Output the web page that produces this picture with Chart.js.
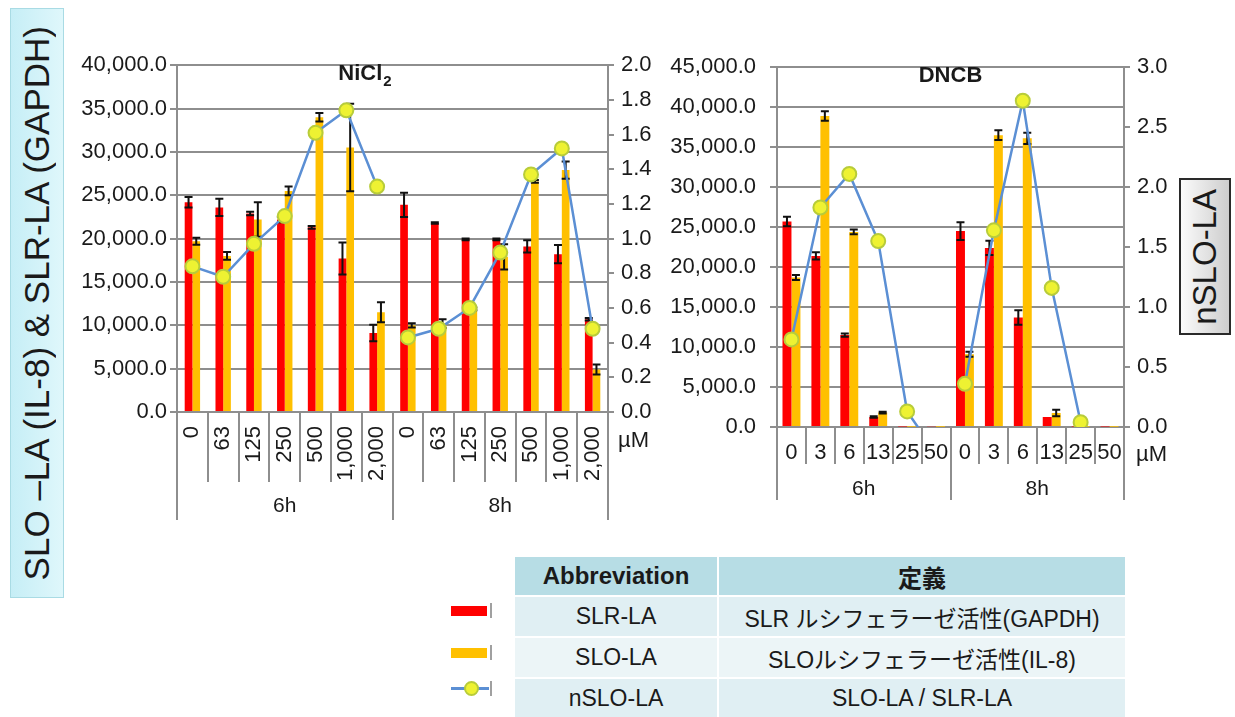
<!DOCTYPE html>
<html lang="ja">
<head>
<meta charset="utf-8">
<title>SLO-LA / SLR-LA</title>
<script src="https://cdn.jsdelivr.net/npm/chart.js@4.4.1/dist/chart.umd.min.js"></script>
<style>
  html, body { margin: 0; padding: 0; background: #fff; }
  body {
    position: relative; width: 1235px; height: 717px; overflow: hidden;
    font-family: "Liberation Sans", Arial, "Noto Sans CJK JP", sans-serif; color: #1a1a1a;
  }
  .box { position: absolute; box-sizing: border-box; display: flex; align-items: center; justify-content: center; }
  .box span { writing-mode: vertical-rl; transform: rotate(180deg); white-space: nowrap; }
  #leftTitle {
    left: 10px; top: 8px; width: 54px; height: 590px;
    background: linear-gradient(to right, #c6eef6, #dff7fb);
    border: 1px solid #a9dbe4; font-size: 35px;
  }
  #rightTitle {
    left: 1179px; top: 178px; width: 52px; height: 157px;
    background: linear-gradient(to right, #fbfbfb, #cdcdcd);
    border: 2px solid #2a2a2a; font-size: 33px;
  }
  .chartWrap { position: absolute; }
  #nicl2Wrap { left: 60px; top: 45px; width: 620px; height: 490px; }
  #dncbWrap { left: 670px; top: 40px; width: 510px; height: 475px; }
  #abbr { position: absolute; left: 515px; top: 557px; border-collapse: separate; border-spacing: 0; }
  #abbr td { text-align: center; padding: 0; }
  #abbr th { text-align: center; padding: 0; font-size: 24px; background: #b7dde5; height: 38px; }
  #abbr td { font-size: 23px; height: 39px; }
  #abbr tr.odd td { background: #e0eff3; }
  #abbr tr.even td { background: #ecf5f7; }
  #abbr .c1 { width: 202px; border-right: 2px solid #fff; }
  #abbr .c2 { width: 406px; }
  #abbr tr + tr th, #abbr tr + tr td { border-top: 2px solid #fff; }
  .key { position: absolute; }
  .key .swatch { position: absolute; left: 0; top: 3px; width: 36px; height: 10px; }
  .key .tick { position: absolute; left: 39px; top: 0; width: 2px; height: 15px; background: #a0a0a0; }
  .key .lineMark { position: absolute; left: 0; top: 6px; width: 38px; height: 3px; background: #5b8fd4; }
  .key .dot {
    position: absolute; left: 13px; top: 0; width: 11px; height: 11px; border-radius: 50%;
    background: #eef232; border: 2px solid #b8cc3a;
  }
</style>
</head>
<body>

<div id="leftTitle" class="box"><span>SLO –LA (IL-8) &amp; SLR-LA (GAPDH)</span></div>
<div id="rightTitle" class="box"><span>nSLO-LA</span></div>

<div id="nicl2Wrap" class="chartWrap"><canvas id="nicl2Chart"></canvas></div>
<div id="dncbWrap" class="chartWrap"><canvas id="dncbChart"></canvas></div>

<div class="key" style="left:451px; top:603px;"><div class="swatch" style="background:#ff0000"></div><div class="tick"></div></div>
<div class="key" style="left:451px; top:645px;"><div class="swatch" style="background:#ffc000"></div><div class="tick"></div></div>
<div class="key" style="left:451px; top:681px;"><div class="lineMark"></div><div class="dot"></div><div class="tick"></div></div>

<table id="abbr">
  <tr><th class="c1">Abbreviation</th><th class="c2">定義</th></tr>
  <tr class="odd"><td class="c1">SLR-LA</td><td class="c2">SLR ルシフェラーゼ活性(GAPDH)</td></tr>
  <tr class="even"><td class="c1">SLO-LA</td><td class="c2">SLOルシフェラーゼ活性(IL-8)</td></tr>
  <tr class="odd"><td class="c1">nSLO-LA</td><td class="c2">SLO-LA / SLR-LA</td></tr>
</table>

<script>
// exposure times shared by both panels
const groups = ['6h', '8h'];

// NiCl2 panel (µM)
const nicl2Doses = ['0', '63', '125', '250', '500', '1,000', '2,000', '0', '63', '125', '250', '500', '1,000', '2,000'];
const nicl2SLR = [24200, 23600, 22900, 22200, 21300, 17700, 9100, 23900, 21800, 19900, 19900, 19100, 18200, 10700];
const nicl2SLRErr = [600, 1000, 200, 300, 150, 1850, 950, 1400, 100, 100, 100, 700, 1050, 150];
const nicl2SLO = [19700, 18000, 22200, 25500, 34000, 30500, 11500, 10000, 10200, 11900, 17900, 26600, 27900, 4900];
const nicl2SLOErr = [400, 450, 2000, 500, 500, 5050, 1150, 250, 500, 150, 1450, 150, 1000, 580];
const nicl2NSLO = [0.84, 0.78, 0.97, 1.13, 1.61, 1.74, 1.30, 0.43, 0.48, 0.60, 0.92, 1.37, 1.52, 0.48];

// DNCB panel (µM)
const dncbDoses = ['0', '3', '6', '13', '25', '50', '0', '3', '6', '13', '25', '50'];
const dncbSLR = [25700, 21400, 11500, 1250, 60, 80, 24500, 22400, 13700, 1250, 60, 60];
const dncbSLRErr = [600, 450, 200, 100, 0, 0, 1100, 900, 900, 0, 0, 0];
const dncbSLO = [18700, 38900, 24400, 1800, 40, 40, 9100, 36500, 36100, 1750, 40, 40];
const dncbSLOErr = [300, 600, 300, 100, 0, 0, 300, 600, 700, 400, 0, 0];
const dncbNSLO = [0.73, 1.83, 2.11, 1.55, 0.13, -0.22, 0.36, 1.64, 2.72, 1.16, 0.04, null];

const RED = '#ff0000';
const ORANGE = '#ffc000';
const LINE_BLUE = '#5b8fd4';
const GRID = '#8e8e8e';
const FONT = '"Liberation Sans", Arial, sans-serif';

Chart.defaults.font.family = FONT;
Chart.defaults.font.size = 22;
Chart.defaults.color = '#1a1a1a';

const thousands = v => v.toLocaleString('en-US', { minimumFractionDigits: 1, maximumFractionDigits: 1 });

// black error bars drawn straight after each bar series
const errorBars = {
  id: 'errorBars',
  afterDatasetDraw(chart, args) {
    const ds = chart.data.datasets[args.index];
    if (!ds.errors) return;
    const y = chart.scales[ds.yAxisID || 'y'];
    const ctx = chart.ctx;
    ctx.save();
    ctx.strokeStyle = '#111';
    ctx.lineWidth = 2;
    args.meta.data.forEach((bar, i) => {
      const e = ds.errors[i];
      if (!e) return;
      const top = y.getPixelForValue(ds.data[i] + e);
      const bot = y.getPixelForValue(Math.max(0, ds.data[i] - e));
      ctx.beginPath();
      ctx.moveTo(bar.x, top); ctx.lineTo(bar.x, bot);
      ctx.moveTo(bar.x - 4, top); ctx.lineTo(bar.x + 4, top);
      ctx.moveTo(bar.x - 4, bot); ctx.lineTo(bar.x + 4, bot);
      ctx.stroke();
    });
    ctx.restore();
  }
};

// two-level category axis, panel title and unit label
const axisDecor = {
  id: 'axisDecor',
  afterDraw(chart, args, opts) {
    const x = chart.scales.x;
    const area = chart.chartArea;
    const ctx = chart.ctx;
    const n = chart.data.labels.length;
    const per = n / opts.groups.length;

    ctx.save();
    ctx.strokeStyle = GRID;
    ctx.lineWidth = 2;
    for (let i = 0; i <= n; i++) {
      const px = Math.round(x.getPixelForValue(i - 0.5));
      const len = i % per === 0 ? opts.groupLen : opts.tickLen;
      ctx.beginPath();
      ctx.moveTo(px, area.bottom);
      ctx.lineTo(px, area.bottom + len);
      ctx.stroke();
    }

    ctx.fillStyle = '#1a1a1a';
    ctx.font = '21px ' + FONT;
    ctx.textAlign = 'center';
    ctx.textBaseline = 'middle';
    opts.groups.forEach((g, k) => {
      ctx.fillText(g, x.getPixelForValue(k * per + (per - 1) / 2), area.bottom + opts.groupY);
    });

    ctx.font = '22px ' + FONT;
    ctx.textAlign = 'left';
    ctx.fillText('µM', area.right + opts.unitDx, area.bottom + opts.unitDy);

    // title, with an optional subscript part
    const tx = area.left + opts.titleX * (area.right - area.left);
    const ty = area.top + 9;
    ctx.font = 'bold 22px ' + FONT;
    const mainW = ctx.measureText(opts.title).width;
    ctx.font = 'bold 15px ' + FONT;
    const subW = opts.sub ? ctx.measureText(opts.sub).width + 1 : 0;
    const x0 = tx - (mainW + subW) / 2;
    ctx.font = 'bold 22px ' + FONT;
    ctx.fillText(opts.title, x0, ty);
    if (opts.sub) {
      ctx.font = 'bold 15px ' + FONT;
      ctx.fillText(opts.sub, x0 + mainW + 1, ty + 8);
    }
    ctx.restore();
  }
};

function buildChart(canvasId, cfg) {
  const per = cfg.doses.length / groups.length;
  const lineSet = {
    type: 'line',
    label: 'nSLO-LA',
    data: cfg.ratio,
    yAxisID: 'y2',
    order: 0,
    borderColor: LINE_BLUE,
    borderWidth: 2.5,
    tension: 0,
    spanGaps: false,
    pointRadius: 7,
    pointBackgroundColor: '#eef232',
    pointBorderColor: '#b8cc3a',
    pointBorderWidth: 2,
    // each exposure time is its own run: no stroke across the 6h/8h boundary
    segment: { borderColor: c => (c.p0DataIndex % per === per - 1 ? 'rgba(0,0,0,0)' : undefined) }
  };
  const barCommon = { order: 1, categoryPercentage: cfg.catPct, barPercentage: 1.0, borderWidth: 0 };

  return new Chart(document.getElementById(canvasId), {
    type: 'bar',
    data: {
      labels: cfg.doses,
      datasets: [
        lineSet,
        Object.assign({ label: 'SLR-LA', data: cfg.slr, errors: cfg.slrErr, backgroundColor: RED }, barCommon),
        Object.assign({ label: 'SLO-LA', data: cfg.slo, errors: cfg.sloErr, backgroundColor: ORANGE }, barCommon)
      ]
    },
    options: {
      responsive: true,
      maintainAspectRatio: false,
      animation: false,
      layout: { padding: { top: cfg.padTop, bottom: cfg.padBottom, left: 0, right: 0 } },
      plugins: {
        legend: { display: false },
        tooltip: { enabled: false },
        axisDecor: cfg.decor
      },
      scales: {
        x: {
          grid: { display: false, drawTicks: false },
          border: { display: false },
          ticks: {
            autoSkip: false,
            minRotation: cfg.rotation,
            maxRotation: cfg.rotation,
            padding: cfg.tickPad
          },
          afterFit: s => { s.height = cfg.xHeight; }
        },
        y: {
          position: 'left',
          min: 0,
          max: cfg.yMax,
          ticks: { stepSize: 5000, callback: thousands, padding: cfg.yPad },
          grid: { color: GRID, lineWidth: 2, tickLength: 7 },
          border: { color: GRID, width: 2 },
          afterFit: s => { s.width = cfg.yWidth; }
        },
        y2: {
          position: 'right',
          min: 0,
          max: cfg.y2Max,
          ticks: { stepSize: cfg.y2Step, callback: v => Number(v).toFixed(1), padding: cfg.y2Pad },
          grid: { drawOnChartArea: false, color: GRID, lineWidth: 2, tickLength: 6 },
          border: { color: GRID, width: 2 },
          afterFit: s => { s.width = cfg.y2Width; }
        }
      }
    },
    plugins: [errorBars, axisDecor]
  });
}

buildChart('nicl2Chart', {
  doses: nicl2Doses, slr: nicl2SLR, slrErr: nicl2SLRErr, slo: nicl2SLO, sloErr: nicl2SLOErr, ratio: nicl2NSLO,
  catPct: 0.5, rotation: 90, tickPad: 14, xHeight: 100, padTop: 20, padBottom: 23,
  yMax: 40000, yWidth: 117, yPad: 3,
  y2Max: 2.0, y2Step: 0.2, y2Width: 72, y2Pad: 7,
  decor: { groups: groups, tickLen: 70, groupLen: 108, groupY: 94, unitDx: 10, unitDy: 29, title: 'NiCl', sub: '2', titleX: 0.436 }
});

buildChart('dncbChart', {
  doses: dncbDoses, slr: dncbSLR, slrErr: dncbSLRErr, slo: dncbSLO, sloErr: dncbSLOErr, ratio: dncbNSLO,
  catPct: 0.62, rotation: 0, tickPad: 13, xHeight: 80, padTop: 15, padBottom: 8,
  yMax: 45000, yWidth: 107, yPad: 14,
  y2Max: 3.0, y2Step: 0.5, y2Width: 56, y2Pad: 7,
  decor: { groups: groups, tickLen: 37, groupLen: 73, groupY: 62, unitDx: 12, unitDy: 28, title: 'DNCB', sub: '', titleX: 0.5 }
});
</script>
</body>
</html>
